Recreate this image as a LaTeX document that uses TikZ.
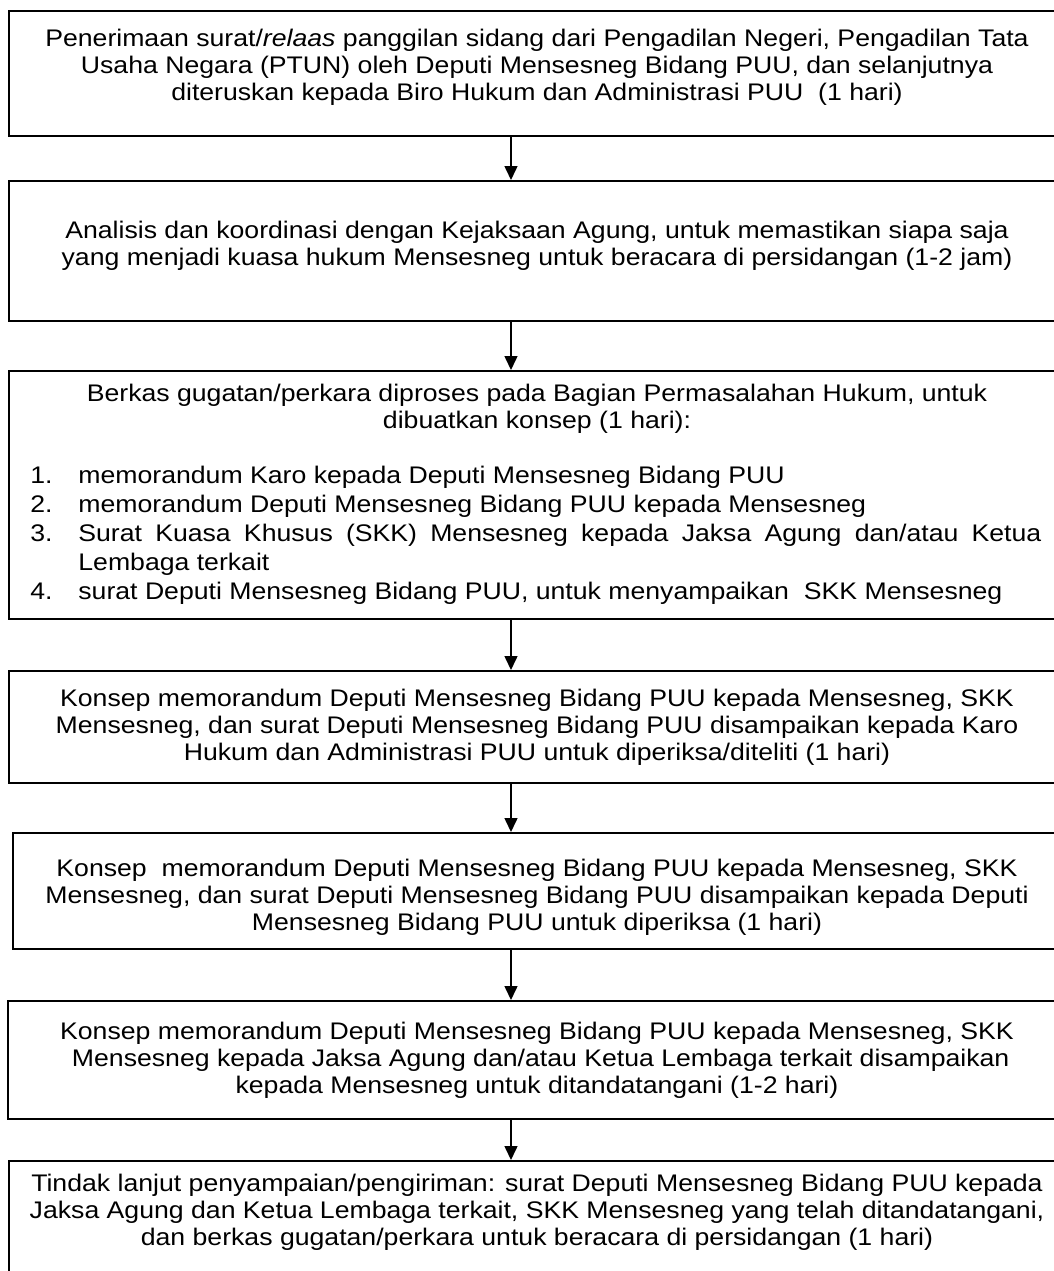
\documentclass[tikz,border=0pt]{standalone}
\usepackage{fontspec}
\setmainfont{Liberation Sans}[FakeStretch=1.11]
\usetikzlibrary{arrows.meta}

\begin{document}
\begin{tikzpicture}[x=0.5pt,y=-0.5pt,>={Triangle[length=7pt,width=6.5pt]},
  box/.style={draw,line width=1pt,inner sep=0pt,minimum width=530.5pt},
  txt/.style={font=\fontsize{12}{13.5}\selectfont,align=center,inner sep=0pt},
  flow/.style={->,line width=0.75pt}]
\useasboundingbox (0,0) rectangle (1054,1271);
\clip (0,0) rectangle (1054,1271);
% boxes
\node[box,minimum height=62.5pt] (b1) at (539.5,73.5) {};
\node[box,minimum height=70pt] (b2) at (539.5,251) {};
\node[box,minimum height=124pt] (b3) at (539.5,495) {};
\node[box,minimum height=56pt] (b4) at (539.5,727) {};
\node[box,minimum height=58pt,minimum width=528.5pt] (b5) at (541.5,891) {};
\node[box,minimum height=59pt,minimum width=531pt] (b6) at (539,1060) {};
\node[box,minimum height=64.5pt] (b7) at (539.5,1225.5) {};
% texts
\node[txt] (t1) at (537,67) {Penerimaan surat/\textit{relaas} panggilan sidang dari Pengadilan Negeri, Pengadilan Tata\\ Usaha Negara (PTUN) oleh Deputi Mensesneg Bidang PUU, dan selanjutnya\\ diteruskan kepada Biro Hukum dan Administrasi PUU\ \ (1 hari)};
\node[txt] (t2) at (537,246) {Analisis dan koordinasi dengan Kejaksaan Agung, untuk memastikan siapa saja\\ yang menjadi kuasa hukum Mensesneg untuk beracara di persidangan (1-2 jam)};
\node[txt] (t3) at (537,409) {Berkas gugatan/perkara diproses pada Bagian Permasalahan Hukum, untuk\\ dibuatkan konsep (1 hari):};
\node[txt,align=left,anchor=north west,font=\fontsize{12}{14.5}\selectfont] (t3list) at (30,466) {%
\makebox[24pt][l]{1.}memorandum Karo kepada Deputi Mensesneg Bidang PUU\\
\makebox[24pt][l]{2.}memorandum Deputi Mensesneg Bidang PUU kepada Mensesneg\\
\makebox[24pt][l]{3.}\makebox[481.5pt][s]{Surat Kuasa Khusus (SKK) Mensesneg kepada Jaksa Agung dan/atau Ketua}\\
\hspace*{24pt}Lembaga terkait\\
\makebox[24pt][l]{4.}surat Deputi Mensesneg Bidang PUU, untuk menyampaikan\ \ SKK Mensesneg};
\node[txt] (t4) at (537,727) {Konsep memorandum Deputi Mensesneg Bidang PUU kepada Mensesneg, SKK\\ Mensesneg, dan surat Deputi Mensesneg Bidang PUU disampaikan kepada Karo\\ Hukum dan Administrasi PUU untuk diperiksa/diteliti (1 hari)};
\node[txt] (t5) at (537,897) {Konsep\ \ memorandum Deputi Mensesneg Bidang PUU kepada Mensesneg, SKK\\ Mensesneg, dan surat Deputi Mensesneg Bidang PUU disampaikan kepada Deputi\\ Mensesneg Bidang PUU untuk diperiksa (1 hari)};
\node[txt] (t6) at (537,1060) {Konsep memorandum Deputi Mensesneg Bidang PUU kepada Mensesneg, SKK\\ \ Mensesneg kepada Jaksa Agung dan/atau Ketua Lembaga terkait disampaikan\\ kepada Mensesneg untuk ditandatangani (1-2 hari)};
\node[txt] (t7) at (537,1212) {Tindak lanjut penyampaian/pengiriman: surat Deputi Mensesneg Bidang PUU kepada\\ Jaksa Agung dan Ketua Lembaga terkait, SKK Mensesneg yang telah ditandatangani,\\ dan berkas gugatan/perkara untuk beracara di persidangan (1 hari)};
% arrows
\coordinate (ax) at (511,0);
\draw[flow] (b1.south -| ax)--(b2.north -| ax);
\draw[flow] (b2.south -| ax)--(b3.north -| ax);
\draw[flow] (b3.south -| ax)--(b4.north -| ax);
\draw[flow] (b4.south -| ax)--(b5.north -| ax);
\draw[flow] (b5.south -| ax)--(b6.north -| ax);
\draw[flow] (b6.south -| ax)--(b7.north -| ax);
\end{tikzpicture}
\end{document}
